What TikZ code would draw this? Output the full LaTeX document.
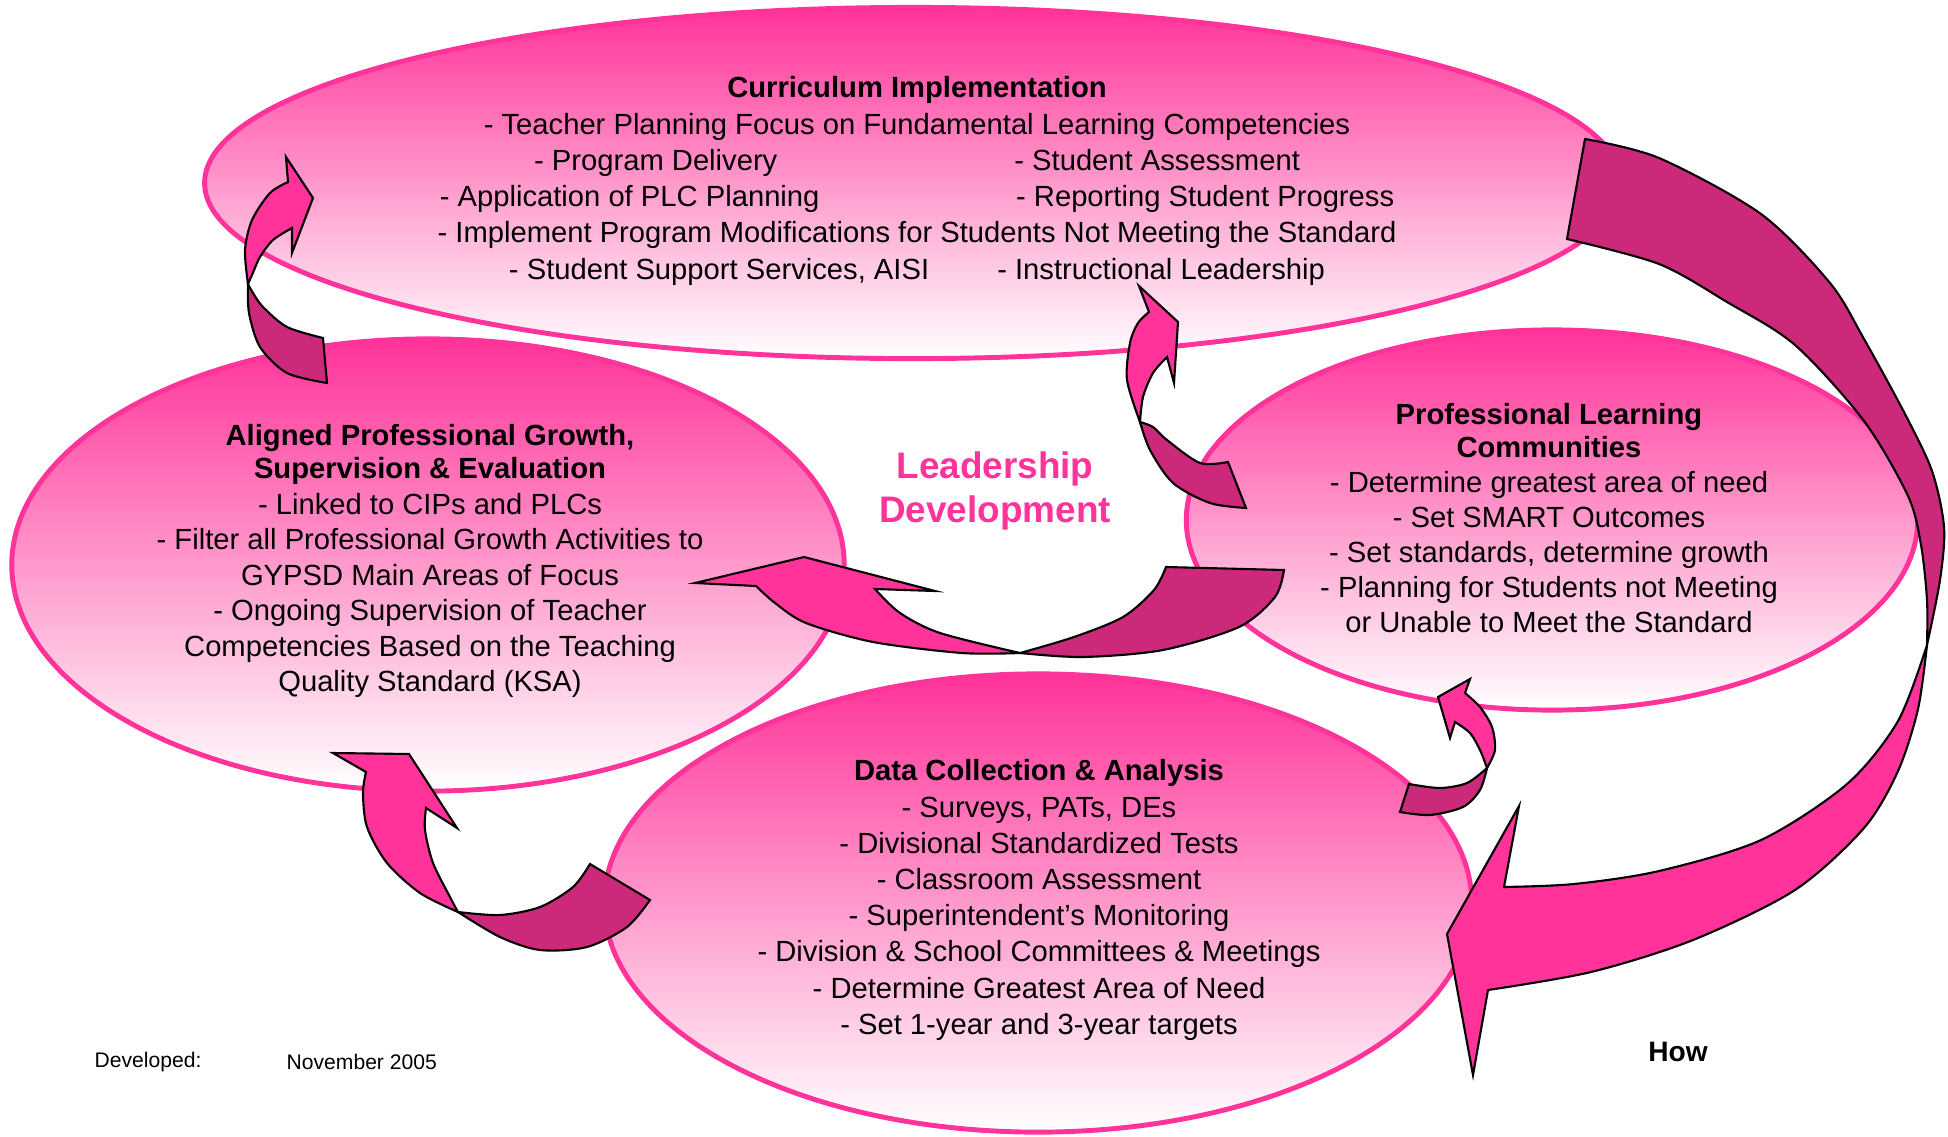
\documentclass[tikz,border=0pt]{standalone}
\usepackage{fontspec}
\setmainfont{Liberation Sans}
\usetikzlibrary{shapes.geometric}
\definecolor{hotpink}{RGB}{255,51,153}
\definecolor{ribbon}{RGB}{204,41,122}

\begin{document}
\begin{tikzpicture}[x=0.01cm,y=-0.01cm]
	\tikzset{bubble/.style={ellipse,draw=hotpink,line width=1.4pt,top color=hotpink,bottom color=white,inner sep=0pt}}
	\tikzset{bubbletext/.style={align=center,inner sep=0pt,font=\fontsize{8.3}{10.3}\selectfont}}
	\tikzset{darkband/.style={fill=ribbon,draw=black,line width=0.6pt}}
	\tikzset{brightband/.style={fill=hotpink,draw=black,line width=0.6pt}}
	\useasboundingbox (0,0) rectangle (1948,1136);
	\node[bubble,minimum width=14.16cm,minimum height=3.51cm] (curriculum) at (913,183) {};
	\node[bubble,minimum width=8.32cm,minimum height=4.52cm] (growth) at (428,565) {};
	\node[bubble,minimum width=7.31cm,minimum height=3.80cm] (plc) at (1552,520) {};
	\node[bubble,minimum width=8.67cm,minimum height=4.58cm] (data) at (1038,903) {};
	\filldraw[darkband] plot[smooth] coordinates {(1585,139) (1659,158) (1761,214) (1830,283) (1864,339) (1905,414) (1932,471) (1944,527) (1940,580) (1927,645)}
		-- plot[smooth] coordinates {(1927,645) (1927,600) (1921,545) (1908,496) (1864,421) (1795,345) (1727,302) (1659,264) (1567,239)} -- cycle;
	\filldraw[brightband] plot[smooth] coordinates {(1927,645) (1918,709) (1898,771) (1864,828) (1795,890) (1693,940) (1591,972) (1488,990)}
		-- (1473,1075) -- (1447,934) -- (1519,806) -- (1504,887)
		-- plot[smooth] coordinates {(1504,887) (1574,884) (1659,871) (1761,840) (1847,784) (1898,721) (1927,645)} -- cycle;
	\filldraw[darkband] plot[smooth] coordinates {(327,383) (287,373) (260,347) (249,313) (248,284)}
		-- plot[smooth] coordinates {(248,284) (253,293) (263,307) (287,327) (323,338)} -- cycle;
	\filldraw[brightband] plot[smooth] coordinates {(248,284) (245,250) (252,220) (270,193) (288,182)}
		-- (286,157) -- (313,198) -- (292,253) -- (292,228)
		-- plot[smooth] coordinates {(292,228) (273,240) (260,257) (252,275) (248,284)} -- cycle;
	\filldraw[darkband] plot[smooth] coordinates {(1246,508) (1210,503) (1173,483) (1150,450) (1140,422)}
		-- plot[smooth] coordinates {(1140,422) (1153,427) (1167,440) (1200,463) (1228,462)} -- cycle;
	\filldraw[brightband] plot[smooth] coordinates {(1140,422) (1127,380) (1130,343) (1138,323) (1149,312)}
		-- (1139,286) -- (1178,322) -- (1174,383) -- (1167,357)
		-- plot[smooth] coordinates {(1167,357) (1153,373) (1143,397) (1140,422)} -- cycle;
	\filldraw[darkband] plot[smooth] coordinates {(1284,570) (1275,597) (1239,627) (1163,650) (1083,657) (1020,653)}
		-- plot[smooth] coordinates {(1020,653) (1074,637) (1123,617) (1154,590) (1166,567)} -- cycle;
	\filldraw[brightband] plot[smooth] coordinates {(1020,653) (962,653) (873,642) (806,623) (775,603) (756,586)}
		-- (695,583) -- (804,557) -- (935,591) -- (875,589)
		-- plot[smooth] coordinates {(875,589) (900,613) (940,633) (1020,653)} -- cycle;
	\filldraw[darkband] plot[smooth] coordinates {(650,900) (627,927) (587,947) (540,950) (500,937) (458,912)}
		-- plot[smooth] coordinates {(458,912) (500,915) (540,907) (573,887) (590,864)} -- cycle;
	\filldraw[brightband] plot[smooth] coordinates {(458,912) (420,893) (387,863) (367,827) (363,793) (366,772)}
		-- (333,753) -- (409,754) -- (457,828) -- (426,808)
		-- plot[smooth] coordinates {(426,808) (425,830) (433,863) (450,897) (458,912)} -- cycle;
	\filldraw[darkband] plot[smooth] coordinates {(1400,812) (1430,815) (1463,807) (1480,790) (1487,768)}
		-- plot[smooth] coordinates {(1487,768) (1467,783) (1440,788) (1409,784)} -- cycle;
	\filldraw[brightband] plot[smooth] coordinates {(1487,768) (1495,750) (1492,727) (1480,707) (1465,693)}
		-- (1470,679) -- (1438,697) -- (1450,738) -- (1455,722)
		-- plot[smooth] coordinates {(1455,722) (1470,733) (1480,750) (1487,768)} -- cycle;
	\node[bubbletext] (curriculumtext) at (917,181) {\textbf{Curriculum Implementation}\\
		- Teacher Planning Focus on Fundamental Learning Competencies\\
		\makebox[4.80cm][l]{- Program Delivery}- Student Assessment\\
		\makebox[5.76cm][l]{- Application of PLC Planning}- Reporting Student Progress\\
		- Implement Program Modifications for Students Not Meeting the Standard\\
		\makebox[4.88cm][l]{- Student Support Services, AISI}- Instructional Leadership};
	\node[bubbletext,font=\fontsize{8.3}{10.1}\selectfont] (growthtext) at (430,561) {\textbf{Aligned Professional Growth,}\\[-0.6pt]
		\textbf{Supervision \& Evaluation}\\
		- Linked to CIPs and PLCs\\
		- Filter all Professional Growth Activities to\\
		GYPSD Main Areas of Focus\\
		- Ongoing Supervision of Teacher\\
		Competencies Based on the Teaching\\
		Quality Standard (KSA)};
	\node[bubbletext,font=\fontsize{8.3}{9.9}\selectfont] (plctext) at (1549,518) {\textbf{Professional Learning}\\[-0.5pt]
		\textbf{Communities}\\
		- Determine greatest area of need\\
		- Set SMART Outcomes\\
		- Set standards, determine growth\\
		- Planning for Students not Meeting\\
		or Unable to Meet the Standard};
	\node[bubbletext] (datatext) at (1039,900) {\textbf{Data Collection \& Analysis}\\
		- Surveys, PATs, DEs\\
		- Divisional Standardized Tests\\
		- Classroom Assessment\\
		- Superintendent’s Monitoring\\
		- Division \& School Committees \& Meetings\\
		- Determine Greatest Area of Need\\
		- Set 1-year and 3-year targets};
	\node[align=center,inner sep=0pt,text=hotpink,font=\fontsize{10.5}{12.3}\selectfont\bfseries] (leadership) at (995,491) {Leadership\\Development};
	\node[anchor=west,inner sep=0pt,font=\fontsize{6}{7}\selectfont] (developed) at (94,1062) {Developed:};
	\node[anchor=west,inner sep=0pt,font=\fontsize{6}{7}\selectfont] (developedon) at (286,1062) {November 2005};
	\node[inner sep=0pt,font=\fontsize{8}{9}\selectfont\bfseries] (how) at (1678,1052) {How};
\end{tikzpicture}
\end{document}
